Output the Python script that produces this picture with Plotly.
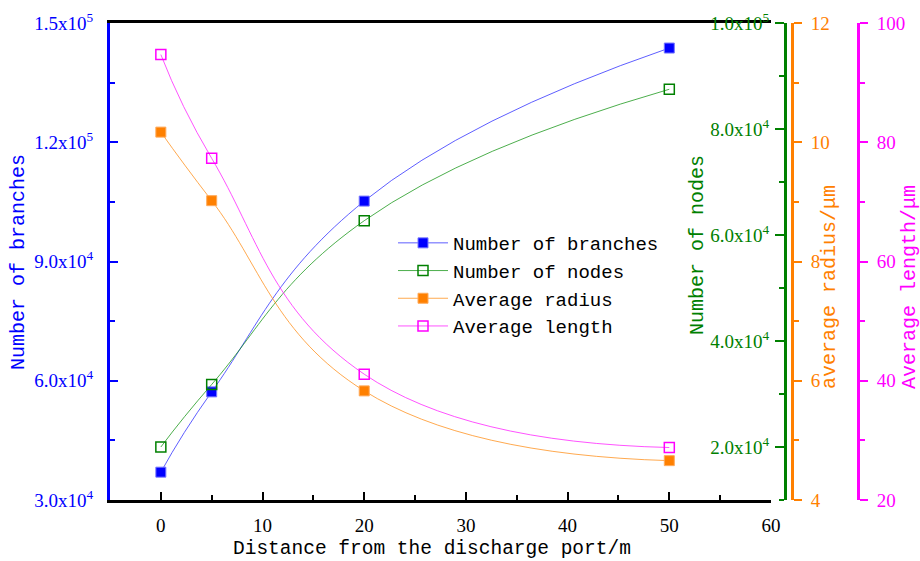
import plotly.graph_objects as go

# ---------------- data ----------------
distance = [0, 5, 20, 50]
branches = [3.70e4, 5.72e4, 1.052e5, 1.437e5]
nodes = [2.0e4, 3.18e4, 6.27e4, 8.75e4]
radius = [10.17, 9.02, 5.83, 4.66]
length = [94.7, 77.3, 41.1, 28.8]

x_ticks = [0, 10, 20, 30, 40, 50, 60]
blue_tickvals = [3e4, 6e4, 9e4, 1.2e5, 1.5e5]
blue_ticktext = ["3.0x10<sup>4</sup>", "6.0x10<sup>4</sup>", "9.0x10<sup>4</sup>",
                 "1.2x10<sup>5</sup>", "1.5x10<sup>5</sup>"]
green_tickvals = [2e4, 4e4, 6e4, 8e4, 1e5]
green_ticktext = ["2.0x10<sup>4</sup>", "4.0x10<sup>4</sup>", "6.0x10<sup>4</sup>",
                  "8.0x10<sup>4</sup>", "1.0x10<sup>5</sup>"]
orange_tickvals = [4, 6, 8, 10, 12]
magenta_tickvals = [20, 40, 60, 80, 100]

# ---------------- style ----------------
MONO = "Liberation Mono"
SERIF = "Liberation Serif"
BLUE = "#0000ff"
GREEN = "#008000"
ORANGE = "#ff8000"
MAGENTA = "#ff00ff"

W, H = 920, 561
ML, MR, MT, MB = 110, 0, 23, 61
PW = W - ML - MR
PH = H - MT - MB


def px_x(p):
    return (p - ML) / PW


def px_y(p):
    return 1 - (p - MT) / PH


fig = go.Figure()

fig.add_trace(go.Scatter(
    x=distance, y=branches, name="Number of branches", yaxis="y",
    mode="lines+markers", line=dict(color="rgba(40,40,255,0.75)", width=1, shape="spline", smoothing=1.3),
    marker=dict(symbol="square", size=10, color=BLUE, line=dict(color="rgba(120,120,255,1)", width=1)),
))
fig.add_trace(go.Scatter(
    x=distance, y=nodes, name="Number of nodes", yaxis="y2",
    mode="lines+markers", line=dict(color="rgba(0,140,0,0.7)", width=1, shape="spline", smoothing=1.3),
    marker=dict(symbol="square-open", size=10, color=GREEN, line=dict(width=1.5)),
))
fig.add_trace(go.Scatter(
    x=distance, y=radius, name="Average radius", yaxis="y3",
    mode="lines+markers", line=dict(color="rgba(255,140,20,0.75)", width=1, shape="spline", smoothing=1.3),
    marker=dict(symbol="square", size=10, color=ORANGE, line=dict(color="rgba(255,170,90,1)", width=1)),
))
fig.add_trace(go.Scatter(
    x=distance, y=length, name="Average length", yaxis="y4",
    mode="lines+markers", line=dict(color="rgba(255,40,255,0.8)", width=1, shape="spline", smoothing=1.3),
    marker=dict(symbol="square-open", size=10, color=MAGENTA, line=dict(width=1.5)),
))

tick_font = lambda c: dict(family=SERIF, size=19, color=c)

fig.update_layout(
    width=W, height=H,
    margin=dict(l=ML, r=MR, t=MT, b=MB, pad=0, autoexpand=False),
    paper_bgcolor="white", plot_bgcolor="white",
    showlegend=True,
    legend=dict(
        x=px_x(393), y=px_y(224), xanchor="left", yanchor="top",
        font=dict(family=MONO, size=19, color="black"),
        bgcolor="rgba(0,0,0,0)", itemwidth=50, tracegroupgap=0,
    ),
    xaxis=dict(
        domain=[0, px_x(771)], range=[-5, 60], automargin=False,
        tickmode="array", tickvals=x_ticks, ticktext=[str(v) for v in x_ticks],
        ticks="inside", ticklen=8, tickwidth=2, tickcolor="black",
        minor=dict(tickmode="linear", tick0=0, dtick=5, ticks="inside", ticklen=5, tickwidth=2, tickcolor="black"),
        showline=True, linecolor="black", linewidth=3, mirror=True,
        showgrid=False, zeroline=False,
        tickfont=tick_font("black"),
        ticklabelstandoff=6,
    ),
    yaxis=dict(
        range=[3e4, 1.5e5], side="left", anchor="x", automargin=False,
        tickmode="array", tickvals=blue_tickvals, ticktext=blue_ticktext,
        ticks="inside", ticklen=8, tickwidth=2, tickcolor=BLUE,
        minor=dict(tickmode="linear", tick0=3e4, dtick=1.5e4, ticks="inside", ticklen=5, tickwidth=2, tickcolor=BLUE),
        showline=True, linecolor=BLUE, linewidth=3,
        showgrid=False, zeroline=False,
        tickfont=tick_font(BLUE), ticklabelstandoff=10,
    ),
    yaxis2=dict(
        range=[1e4, 1e5], overlaying="y", anchor="free", position=px_x(785), side="left", automargin=False,
        tickmode="array", tickvals=green_tickvals, ticktext=green_ticktext,
        ticks="outside", ticklen=9, tickwidth=2, tickcolor=GREEN,
        minor=dict(tickmode="linear", tick0=1e4, dtick=1e4, ticks="outside", ticklen=5, tickwidth=2, tickcolor=GREEN),
        showline=True, linecolor=GREEN, linewidth=3,
        showgrid=False, zeroline=False,
        tickfont=tick_font(GREEN), ticklabelstandoff=2,
    ),
    yaxis3=dict(
        range=[4, 12], overlaying="y", anchor="free", position=px_x(792), side="right", automargin=False,
        tickmode="array", tickvals=orange_tickvals, ticktext=[str(v) for v in orange_tickvals],
        ticks="outside", ticklen=8, tickwidth=2, tickcolor=ORANGE,
        minor=dict(tickmode="linear", tick0=4, dtick=1, ticks="outside", ticklen=5, tickwidth=2, tickcolor=ORANGE),
        showline=True, linecolor=ORANGE, linewidth=3,
        showgrid=False, zeroline=False,
        tickfont=tick_font(ORANGE), ticklabelstandoff=5,
    ),
    yaxis4=dict(
        range=[20, 100], overlaying="y", anchor="free", position=px_x(858), side="right", automargin=False,
        tickmode="array", tickvals=magenta_tickvals, ticktext=[str(v) for v in magenta_tickvals],
        ticks="outside", ticklen=8, tickwidth=2, tickcolor=MAGENTA,
        minor=dict(tickmode="linear", tick0=20, dtick=10, ticks="outside", ticklen=5, tickwidth=2, tickcolor=MAGENTA),
        showline=True, linecolor=MAGENTA, linewidth=3,
        showgrid=False, zeroline=False,
        tickfont=tick_font(MAGENTA), ticklabelstandoff=5,
    ),
)

title_font = lambda c, s=20: dict(family=MONO, size=s, color=c)
annos = [
    dict(text="Number of branches", x=px_x(18), y=px_y(262), textangle=-90, font=title_font(BLUE)),
    dict(text="Number of nodes", x=px_x(697), y=px_y(245), textangle=-90, font=title_font(GREEN)),
    dict(text="average radius/μm", x=px_x(829), y=px_y(287), textangle=-90, font=title_font(ORANGE)),
    dict(text="Average length/μm", x=px_x(909), y=px_y(287), textangle=-90, font=title_font(MAGENTA)),
    dict(text="Distance from the discharge port/m", x=px_x(432), y=px_y(549), textangle=0,
         font=title_font("black", 19.5)),
]
for a in annos:
    fig.add_annotation(xref="paper", yref="paper", xanchor="center", yanchor="middle",
                       showarrow=False, **a)

fig.write_html("out.html")
